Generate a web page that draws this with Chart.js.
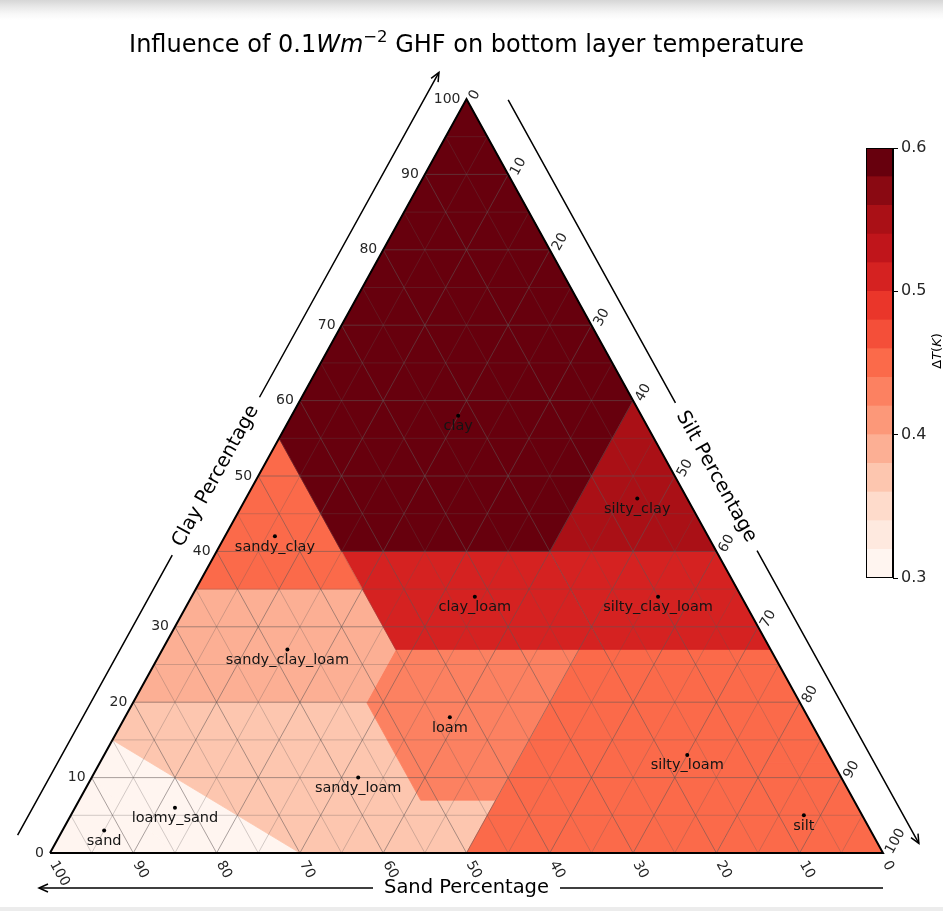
<!DOCTYPE html>
<html>
<head>
<meta charset="utf-8">
<title>Influence of 0.1 Wm-2 GHF on bottom layer temperature</title>
<script src="https://cdn.jsdelivr.net/npm/chart.js@4/dist/chart.umd.min.js"></script>
<style>
  html, body { margin: 0; padding: 0; background: #fff; }
  #wrap {
    position: relative; width: 943px; height: 911px; overflow: hidden;
    background: linear-gradient(to bottom, #d6d6d6 0px, #e9e9e9 7px, #f8f8f8 14px, #ffffff 20px);
  }
  #wrap::after {
    content: ""; position: absolute; left: 0; right: 0; bottom: 0; height: 4px; background: #ececec;
  }
  canvas { position: absolute; left: 0; top: 0; }
</style>
</head>
<body>
<div id="wrap">
  <canvas id="tri" width="943" height="911"></canvas>
  <canvas id="cbar" width="943" height="911"></canvas>
</div>
<script>
// ---- soil texture classes (USDA), vertices as [sand, silt, clay] percentages ----
const classNames = ['clay', 'silty_clay', 'sandy_clay', 'silty_clay_loam', 'clay_loam',
  'sandy_clay_loam', 'loam', 'silty_loam', 'silt', 'sandy_loam', 'loamy_sand', 'sand'];

// bottom layer temperature response (K) for each class
const deltaT = [0.59, 0.55, 0.45, 0.51, 0.51, 0.39, 0.43, 0.45, 0.45, 0.37, 0.31, 0.31];

// representative composition of each class (percent)
const classSand = [22, 6, 52, 10, 32, 58, 43, 17, 7, 58, 82, 92];
const classSilt = [20, 47, 6, 56, 34, 15, 39, 70, 88, 32, 12, 5];
const classClay = [58, 47, 42, 34, 34, 27, 18, 13, 5, 10, 6, 3];

const classVertices = [
  [[0, 0, 100], [45, 0, 55], [45, 15, 40], [20, 40, 40], [0, 40, 60]],
  [[0, 40, 60], [20, 40, 40], [0, 60, 40]],
  [[45, 0, 55], [65, 0, 35], [45, 20, 35]],
  [[20, 40, 40], [0, 60, 40], [0, 73, 27], [20, 53, 27]],
  [[45, 15, 40], [20, 40, 40], [20, 53, 27], [45, 28, 27], [45, 20, 35]],
  [[65, 0, 35], [80, 0, 20], [52, 28, 20], [45, 28, 27], [45, 20, 35]],
  [[45, 28, 27], [52, 28, 20], [52, 41, 7], [43, 50, 7], [23, 50, 27]],
  [[23, 50, 27], [43, 50, 7], [50, 50, 0], [20, 80, 0], [8, 80, 12], [0, 88, 12], [0, 73, 27]],
  [[20, 80, 0], [0, 100, 0], [0, 88, 12], [8, 80, 12]],
  [[80, 0, 20], [85, 0, 15], [70, 30, 0], [50, 50, 0], [43, 50, 7], [52, 41, 7], [52, 28, 20]],
  [[85, 0, 15], [90, 0, 10], [85, 15, 0], [70, 30, 0]],
  [[90, 0, 10], [100, 0, 0], [85, 15, 0]]
];

// contour levels of the colour scale and its labelled ticks
const levels = [0.30, 0.32, 0.34, 0.36, 0.38, 0.40, 0.42, 0.44, 0.46, 0.48, 0.50, 0.52, 0.54, 0.56, 0.58, 0.60];
const cbarTicks = [0.3, 0.4, 0.5, 0.6];

// ternary axis ticks and grid spacing (percent)
const axisTicks = [0, 10, 20, 30, 40, 50, 60, 70, 80, 90, 100];
const gridPercents = [5, 10, 15, 20, 25, 30, 35, 40, 45, 50, 55, 60, 65, 70, 75, 80, 85, 90, 95];

// ---- helpers ----
const FONT = '"DejaVu Sans", "Liberation Sans", sans-serif';
const REDS = [[255, 245, 240], [254, 224, 210], [252, 187, 161], [252, 146, 114], [251, 106, 74],
  [239, 59, 44], [203, 24, 29], [165, 15, 21], [103, 0, 13]];

function reds(t) {
  t = Math.min(1, Math.max(0, t));
  const f = t * (REDS.length - 1);
  const i = Math.min(REDS.length - 2, Math.floor(f));
  const r = f - i, a = REDS[i], b = REDS[i + 1];
  return 'rgb(' + a.map((v, k) => Math.round(v + (b[k] - v) * r)).join(',') + ')';
}
const nBands = levels.length - 1;
function bandColor(i) { return reds(i / (nBands - 1)); }
function colorFor(v) {
  let i = 0;
  while (i < nBands - 1 && v >= levels[i + 1] - 1e-9) i++;
  return bandColor(i);
}
// [sand, silt, clay] -> plot plane (x along the base, y = clay)
function toXY(v) { return { x: v[1] + v[2] / 2, y: v[2] }; }

// ---- datasets ----
const polyDatasets = classVertices.map((verts, i) => {
  const pts = verts.map(toXY);
  pts.push(pts[0]);
  const col = colorFor(deltaT[i]);
  return {
    type: 'line', label: classNames[i], data: pts,
    fill: 'shape', backgroundColor: col, borderColor: col, borderWidth: 0.8,
    pointRadius: 0, tension: 0, order: 40
  };
});

function gridData(major) {
  const out = [];
  gridPercents.forEach(k => {
    if ((k % 10 === 0) !== major) return;
    // constant clay, constant sand, constant silt
    out.push(toXY([100 - k, 0, k]), toXY([0, 100 - k, k]), { x: NaN, y: NaN });
    out.push(toXY([k, 100 - k, 0]), toXY([k, 0, 100 - k]), { x: NaN, y: NaN });
    out.push(toXY([100 - k, k, 0]), toXY([0, k, 100 - k]), { x: NaN, y: NaN });
  });
  return out;
}

const gridMinor = {
  type: 'line', label: 'grid-minor', data: gridData(false), spanGaps: false,
  borderColor: 'rgba(95,85,85,0.4)', borderWidth: 0.7, pointRadius: 0, fill: false, order: 30
};
const gridMajor = {
  type: 'line', label: 'grid-major', data: gridData(true), spanGaps: false,
  borderColor: 'rgba(95,85,85,0.6)', borderWidth: 0.9, pointRadius: 0, fill: false, order: 29
};
const frame = {
  type: 'line', label: 'frame',
  data: [toXY([100, 0, 0]), toXY([0, 100, 0]), toXY([0, 0, 100]), toXY([100, 0, 0])],
  borderColor: '#000', borderWidth: 2, pointRadius: 0, fill: false, clip: false, order: 20,
  borderJoinStyle: 'miter'
};
const classPoints = classNames.map((_, i) => toXY([classSand[i], classSilt[i], classClay[i]]));
const dots = {
  type: 'scatter', label: 'class composition', data: classPoints,
  pointRadius: 2, pointBackgroundColor: '#000', pointBorderWidth: 0, order: 10
};

// ---- annotations: title, ternary ticks, axis arrows, class names ----
function rotText(ctx, txt, x, y, ang, align, base) {
  ctx.save();
  ctx.translate(x, y); ctx.rotate(ang);
  ctx.textAlign = align; ctx.textBaseline = base;
  ctx.fillText(txt, 0, 0);
  ctx.restore();
}

const ternaryDecor = {
  id: 'ternaryDecor',
  afterDatasetsDraw(chart) {
    const ctx = chart.ctx, xs = chart.scales.x, ys = chart.scales.y;
    const P = v => { const q = toXY(v); return { x: xs.getPixelForValue(q.x), y: ys.getPixelForValue(q.y) }; };
    const A = P([100, 0, 0]), B = P([0, 100, 0]), C = P([0, 0, 100]);
    const angLeft = Math.atan2(C.y - A.y, C.x - A.x);   // direction of constant-silt lines
    const angRight = Math.atan2(B.y - C.y, B.x - C.x);  // direction of constant-sand lines

    ctx.save();
    // title
    const parts = [
      { t: 'Influence of 0.1', f: '24px ' + FONT, dy: 0 },
      { t: 'Wm', f: 'italic 24px ' + FONT, dy: 0 },
      { t: '\u22122', f: '16.5px ' + FONT, dy: -10 },
      { t: ' GHF on bottom layer temperature', f: '24px ' + FONT, dy: 0 }
    ];
    let total = 0;
    parts.forEach(p => { ctx.font = p.f; p.w = ctx.measureText(p.t).width; total += p.w; });
    let tx = (A.x + B.x) / 2 - total / 2;
    ctx.fillStyle = '#000'; ctx.textAlign = 'left'; ctx.textBaseline = 'alphabetic';
    parts.forEach(p => { ctx.font = p.f; ctx.fillText(p.t, tx, 52 + p.dy); tx += p.w; });

    // tick labels
    ctx.font = '14px ' + FONT; ctx.fillStyle = '#262626';
    axisTicks.forEach(v => {
      const pc = P([100 - v, 0, v]);               // clay, left edge
      ctx.textAlign = 'right'; ctx.textBaseline = 'middle';
      ctx.fillText(String(v), pc.x - 6, pc.y);
      const ps = P([v, 100 - v, 0]);               // sand, bottom edge
      rotText(ctx, String(v), ps.x + 3, ps.y + 9, angRight, 'left', 'middle');
      const pm = P([0, v, 100 - v]);               // silt, right edge
      rotText(ctx, String(v), pm.x + 6, pm.y, angLeft, 'left', 'middle');
    });

    // axis arrows with their titles
    function axis(P0, P1, startOff, endExtra, perp, frac, text) {
      const dx = P1.x - P0.x, dy = P1.y - P0.y, L = Math.hypot(dx, dy);
      const u = { x: dx / L, y: dy / L }, n = { x: u.y, y: -u.x };
      const at = s => ({ x: P0.x + n.x * perp + u.x * s, y: P0.y + n.y * perp + u.y * s });
      ctx.font = '19.5px ' + FONT;
      const w = ctx.measureText(text).width;
      const mid = L * frac;
      const a = at(startOff), g1 = at(mid - w / 2 - 11), g2 = at(mid + w / 2 + 11), b = at(L + endExtra);
      ctx.strokeStyle = '#000'; ctx.lineWidth = 1.5; ctx.lineCap = 'butt';
      ctx.beginPath();
      ctx.moveTo(a.x, a.y); ctx.lineTo(g1.x, g1.y);
      ctx.moveTo(g2.x, g2.y); ctx.lineTo(b.x, b.y);
      ctx.stroke();
      // arrow head
      ctx.beginPath();
      ctx.moveTo(b.x - u.x * 9 + n.x * 4, b.y - u.y * 9 + n.y * 4);
      ctx.lineTo(b.x, b.y);
      ctx.lineTo(b.x - u.x * 9 - n.x * 4, b.y - u.y * 9 - n.y * 4);
      ctx.stroke();
      let ang = Math.atan2(u.y, u.x);
      if (ang > Math.PI / 2) ang -= Math.PI;
      if (ang < -Math.PI / 2) ang += Math.PI;
      const c = at(mid);
      ctx.fillStyle = '#000';
      rotText(ctx, text, c.x, c.y, ang, 'center', 'middle');
    }
    axis(A, C, 0, 10, 37, 0.476, 'Clay Percentage');
    axis(C, B, 21, 9, 36, 0.524, 'Silt Percentage');
    axis(B, A, 0, 11, 35, 0.5, 'Sand Percentage');

    // class names just below their composition points
    ctx.font = '14.5px ' + FONT; ctx.fillStyle = '#141414';
    ctx.textAlign = 'center'; ctx.textBaseline = 'alphabetic';
    classPoints.forEach((c, i) => {
      ctx.fillText(classNames[i], xs.getPixelForValue(c.x), ys.getPixelForValue(c.y) + 14.5);
    });
    ctx.restore();
  }
};

new Chart(document.getElementById('tri'), {
  type: 'scatter',
  data: { datasets: [...polyDatasets, gridMinor, gridMajor, frame, dots] },
  options: {
    responsive: false, animation: false, devicePixelRatio: 1,
    layout: { padding: { left: 50, right: 60, top: 99, bottom: 58 } },
    scales: {
      x: { type: 'linear', min: 0, max: 100, display: false },
      y: { type: 'linear', min: 0, max: 100, display: false }
    },
    plugins: { legend: { display: false }, tooltip: { enabled: false }, title: { display: false } }
  },
  plugins: [ternaryDecor]
});

// ---- colour bar ----
const cbarDecor = {
  id: 'cbarDecor',
  afterDraw(chart) {
    const ctx = chart.ctx, a = chart.chartArea;
    ctx.save();
    ctx.strokeStyle = '#000'; ctx.lineWidth = 1;
    ctx.strokeRect(Math.round(a.left) + 0.5, Math.round(a.top) + 0.5,
      Math.round(a.right - a.left) - 1, Math.round(a.bottom - a.top) - 1);
    // label: \Delta T (K), read bottom to top
    const parts = [
      { t: '\u0394', f: '13px ' + FONT }, { t: 'T', f: 'italic 13px ' + FONT },
      { t: '(', f: '13px ' + FONT }, { t: 'K', f: 'italic 13px ' + FONT }, { t: ')', f: '13px ' + FONT }
    ];
    let total = 0;
    parts.forEach(p => { ctx.font = p.f; p.w = ctx.measureText(p.t).width; total += p.w; });
    ctx.translate(a.right + 45, (a.top + a.bottom) / 2 - 12);
    ctx.rotate(-Math.PI / 2);
    ctx.fillStyle = '#000'; ctx.textAlign = 'left'; ctx.textBaseline = 'middle';
    let x = -total / 2;
    parts.forEach(p => { ctx.font = p.f; ctx.fillText(p.t, x, 0); x += p.w; });
    ctx.restore();
  }
};

new Chart(document.getElementById('cbar'), {
  type: 'bar',
  data: {
    labels: ['dT'],
    datasets: levels.slice(0, -1).map((lo, i) => ({
      label: lo.toFixed(2), data: [[lo, levels[i + 1]]],
      backgroundColor: bandColor(i), borderWidth: 0,
      barPercentage: 1, categoryPercentage: 1, grouped: false
    }))
  },
  options: {
    responsive: false, animation: false, devicePixelRatio: 1,
    layout: { padding: { left: 866, top: 148, bottom: 333, right: 4 } },
    scales: {
      x: { display: false },
      y: {
        position: 'right', min: levels[0], max: levels[levels.length - 1],
        afterBuildTicks: s => { s.ticks = cbarTicks.map(v => ({ value: v })); },
        afterFit: s => { s.width = 46; },
        ticks: { color: '#262626', font: { family: FONT, size: 16 }, padding: 3,
          callback: v => Number(v).toFixed(1) },
        grid: { drawOnChartArea: false, drawTicks: true, tickLength: 5, tickColor: '#000', tickWidth: 1 },
        border: { display: true, color: '#000', width: 1 }
      }
    },
    plugins: { legend: { display: false }, tooltip: { enabled: false }, title: { display: false } }
  },
  plugins: [cbarDecor]
});
</script>
</body>
</html>
